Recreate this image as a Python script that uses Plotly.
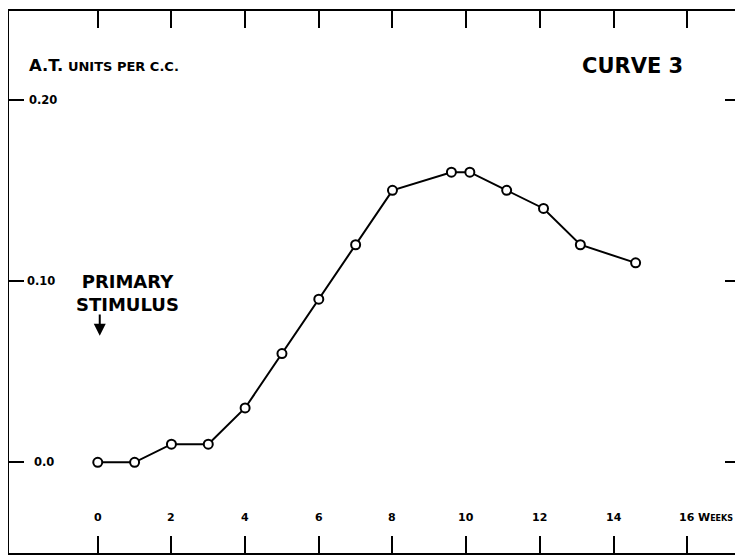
import plotly.graph_objects as go

# Data
weeks = [0, 1, 2, 3, 4, 5, 6, 7, 8, 9.6, 10.1, 11.1, 12.1, 13.1, 14.6]
units = [0.0, 0.0, 0.01, 0.01, 0.03, 0.06, 0.09, 0.12, 0.15, 0.16, 0.16, 0.15, 0.14, 0.12, 0.11]

x_ticks = [0, 2, 4, 6, 8, 10, 12, 14, 16]
x_tick_labels = ["0", "2", "4", "6", "8", "10", "12", "14", "16"]
y_ticks = [0.0, 0.10, 0.20]
y_tick_labels = ["0.0", "0.10", "0.20"]

# the page body has an 8px margin, so the figure starts at page (8, 8)
W, H = 735, 548
ML, MR, MT, MB = 1, 1, 1, 3
PX0 = 9  # page x of the plot area's left edge
PW = 733
FONT = "DejaVu Sans"
XS = 36.94   # px per week
YS = 1820.0  # px per unit

def pxx(px):
    return (px - PX0) / PW

fig = go.Figure()
fig.add_trace(go.Scatter(
    x=weeks, y=units, mode="lines+markers",
    line=dict(color="black", width=2),
    marker=dict(symbol="circle", size=9, color="white",
                line=dict(color="black", width=2)),
    showlegend=False, hoverinfo="x+y",
))

ann = []
# bottom tick labels inside the frame
for v, t in zip(x_ticks, x_tick_labels):
    ann.append(dict(x=v, y=-55 / YS, xref="x", yref="y", text="<b>%s</b>" % t, showarrow=False,
                    font=dict(family=FONT, size=11, color="black"),
                    xanchor="center", yanchor="middle"))
ann.append(dict(x=16.25, y=-55 / YS, xref="x", yref="y",
                text="<b>W<span style='font-size:8px'>EEKS</span></b>",
                showarrow=False, font=dict(family=FONT, size=11, color="black"),
                xanchor="left", yanchor="middle"))
# left tick labels
y_label_px = {"0.0": 32, "0.10": 25, "0.20": 27}
for v, t in zip(y_ticks, y_tick_labels):
    ann.append(dict(x=pxx(y_label_px[t]), y=v, xref="paper", yref="y",
                    text="<b>%s</b>" % t, showarrow=False,
                    font=dict(family=FONT, size=11.5, color="black"),
                    xanchor="left", yanchor="middle"))
# axis title
ann.append(dict(x=pxx(27), y=(462 - 64) / YS, xref="paper", yref="y",
                text="<b>A.T.<span style='font-size:13px'> UNITS PER C.C.</span></b>",
                showarrow=False, font=dict(family=FONT, size=16.5, color="black"),
                xanchor="left", yanchor="middle"))
# curve label
ann.append(dict(x=(634 - 98) / XS, y=(462 - 64) / YS, xref="x", yref="y",
                text="<b>CURVE 3</b>", showarrow=False,
                font=dict(family=FONT, size=21, color="black"),
                xanchor="center", yanchor="middle"))
# primary stimulus
ann.append(dict(x=(128 - 98) / XS, y=(462 - 292) / YS, xref="x", yref="y",
                text="<b>PRIMARY<br>STIMULUS</b>", showarrow=False,
                font=dict(family=FONT, size=18, color="black"),
                xanchor="center", yanchor="middle", align="center"))
ann.append(dict(x=(100 - 98) / XS, y=(462 - 335) / YS, xref="x", yref="y",
                ax=(100 - 98) / XS, ay=(462 - 312) / YS,
                axref="x", ayref="y", text="", showarrow=True,
                arrowhead=2, arrowsize=1.2, arrowwidth=2, arrowcolor="black"))

fig.update_layout(
    width=W, height=H,
    margin=dict(l=ML, r=MR, t=MT, b=MB),
    paper_bgcolor="white", plot_bgcolor="white",
    annotations=ann,
    xaxis=dict(range=[(PX0 - 98) / XS, (742 - 98) / XS], tickvals=x_ticks,
               showticklabels=False, ticks="inside", ticklen=17, tickwidth=2,
               tickcolor="black", showline=True, linecolor="black", linewidth=2,
               mirror="ticks", showgrid=False, zeroline=False),
    yaxis=dict(range=[-91 / YS, 0.2 + 89 / YS], tickvals=y_ticks,
               showticklabels=False, ticks="inside", ticklen=15, tickwidth=2,
               tickcolor="black", showline=True, linecolor="black", linewidth=2,
               mirror="ticks", showgrid=False, zeroline=False),
)

fig.write_html("out.html")
